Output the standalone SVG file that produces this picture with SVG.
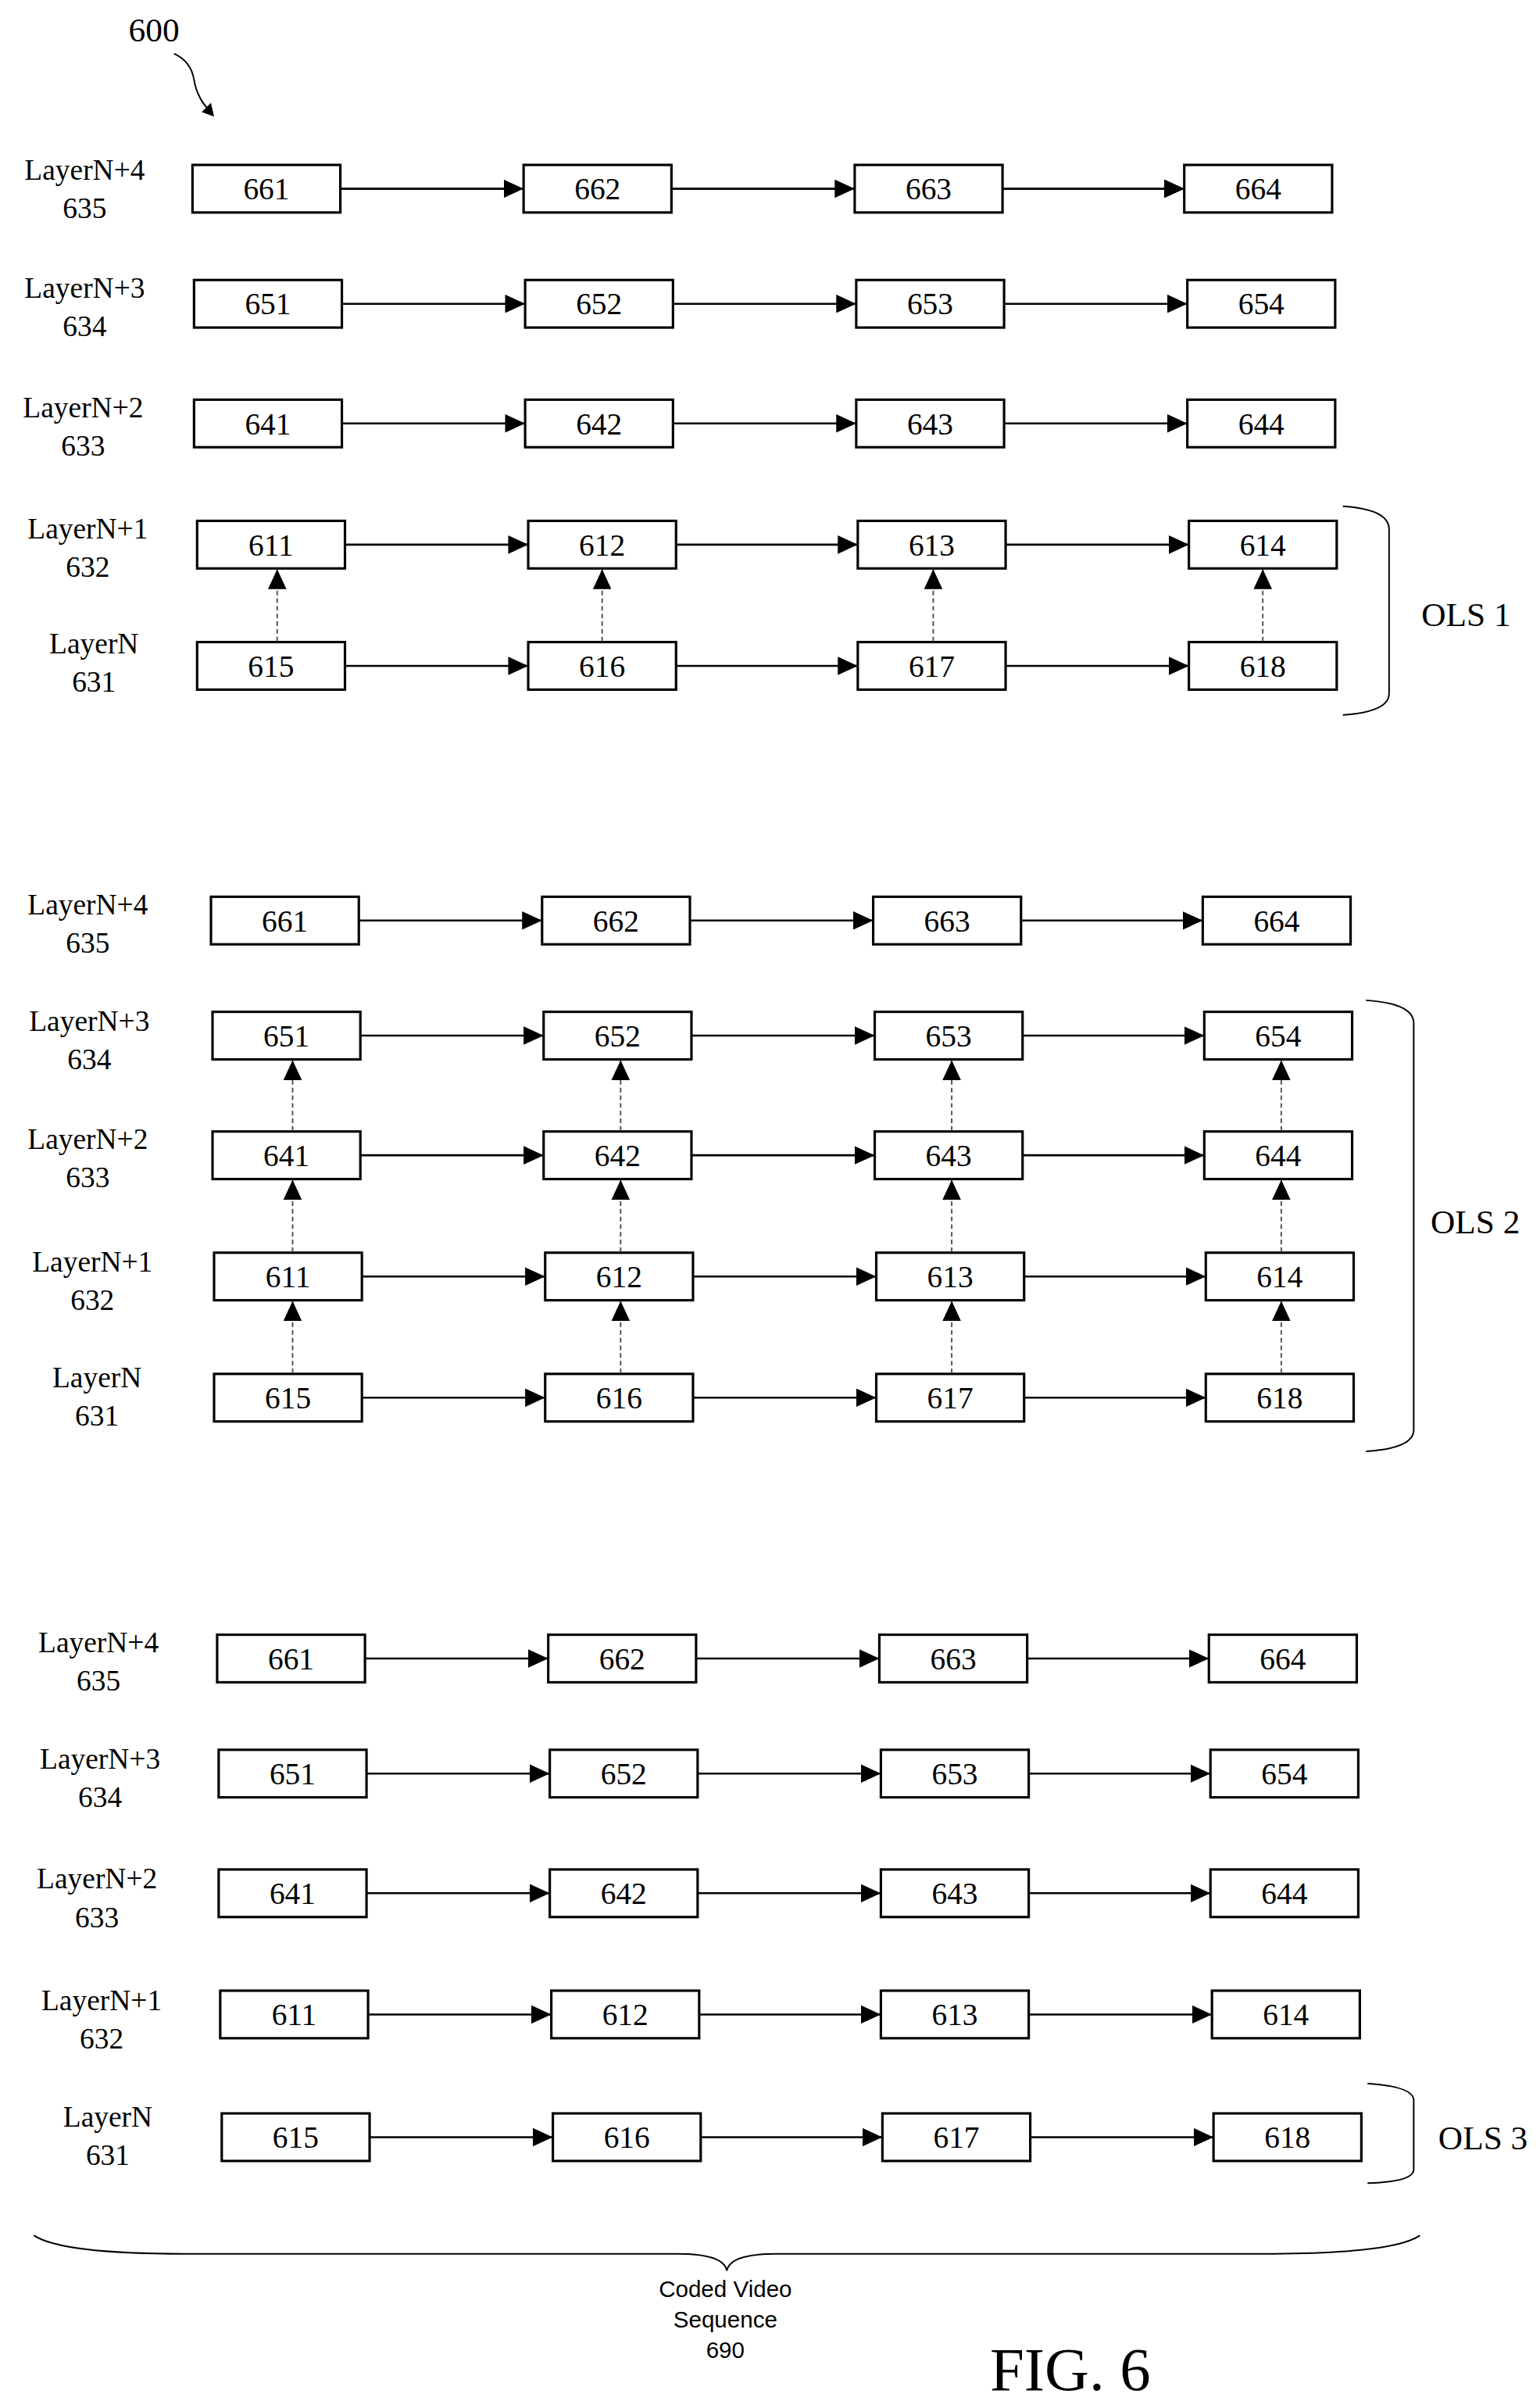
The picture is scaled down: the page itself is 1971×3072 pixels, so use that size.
<svg xmlns="http://www.w3.org/2000/svg" width="1971" height="3072" viewBox="0 0 1971 3072">
<defs>
<marker id="ah" markerUnits="userSpaceOnUse" markerWidth="14" markerHeight="12" refX="13" refY="6" orient="auto"><path d="M0,0 L13,6 L0,12 Z" fill="#000"/></marker>
<style>
.b{fill:#fff;stroke:#000;stroke-width:1.6}
.t{font-family:"Liberation Serif",serif;font-size:20px;text-anchor:middle}
.l{font-family:"Liberation Serif",serif;font-size:19px;text-anchor:middle}
.h{stroke:#000;stroke-width:1.3;fill:none;marker-end:url(#ah)}
.d{stroke:#555;stroke-width:1;stroke-dasharray:3,2;fill:none;marker-end:url(#ah)}
.br{stroke:#000;stroke-width:1;fill:none}
</style>
</defs>
<rect width="1971" height="3072" fill="#fff"/>
<g transform="scale(1.971 1.963)">
<g id="title"><text x="100" y="27" class="l" style="font-size:22px">600</text>
<path class="br" d="M113,35 Q124,40 126,52 Q128,64 136,72" stroke-width="1.3"/><path d="M131,73 L139,76 L137,67 Z"/></g>
<g id="labels">
<text class="l" x="55" y="117">LayerN+4</text><text class="l" x="55" y="142">635</text>
<text class="l" x="55" y="194">LayerN+3</text><text class="l" x="55" y="219">634</text>
<text class="l" x="54" y="272">LayerN+2</text><text class="l" x="54" y="297">633</text>
<text class="l" x="57" y="351">LayerN+1</text><text class="l" x="57" y="376">632</text>
<text class="l" x="61" y="426">LayerN</text><text class="l" x="61" y="451">631</text>
<text class="l" x="57" y="596">LayerN+4</text><text class="l" x="57" y="621">635</text>
<text class="l" x="58" y="672">LayerN+3</text><text class="l" x="58" y="697">634</text>
<text class="l" x="57" y="749">LayerN+2</text><text class="l" x="57" y="774">633</text>
<text class="l" x="60" y="829">LayerN+1</text><text class="l" x="60" y="854">632</text>
<text class="l" x="63" y="904">LayerN</text><text class="l" x="63" y="929">631</text>
<text class="l" x="64" y="1077">LayerN+4</text><text class="l" x="64" y="1102">635</text>
<text class="l" x="65" y="1153">LayerN+3</text><text class="l" x="65" y="1178">634</text>
<text class="l" x="63" y="1231">LayerN+2</text><text class="l" x="63" y="1256">633</text>
<text class="l" x="66" y="1310">LayerN+1</text><text class="l" x="66" y="1335">632</text>
<text class="l" x="70" y="1386">LayerN</text><text class="l" x="70" y="1411">631</text>
</g>
<g id="nodes">
<!-- S1 -->
<g id="s1-661"><rect class="b" x="125" y="107.5" width="96" height="31"/><text class="t" x="173" y="130">661</text></g>
<g id="s1-662"><rect class="b" x="340" y="107.5" width="96" height="31"/><text class="t" x="388" y="130">662</text></g>
<g id="s1-663"><rect class="b" x="555" y="107.5" width="96" height="31"/><text class="t" x="603" y="130">663</text></g>
<g id="s1-664"><rect class="b" x="769" y="107.5" width="96" height="31"/><text class="t" x="817" y="130">664</text></g>
<g id="s1-651"><rect class="b" x="126" y="182.5" width="96" height="31"/><text class="t" x="174" y="205">651</text></g>
<g id="s1-652"><rect class="b" x="341" y="182.5" width="96" height="31"/><text class="t" x="389" y="205">652</text></g>
<g id="s1-653"><rect class="b" x="556" y="182.5" width="96" height="31"/><text class="t" x="604" y="205">653</text></g>
<g id="s1-654"><rect class="b" x="771" y="182.5" width="96" height="31"/><text class="t" x="819" y="205">654</text></g>
<g id="s1-641"><rect class="b" x="126" y="260.5" width="96" height="31"/><text class="t" x="174" y="283">641</text></g>
<g id="s1-642"><rect class="b" x="341" y="260.5" width="96" height="31"/><text class="t" x="389" y="283">642</text></g>
<g id="s1-643"><rect class="b" x="556" y="260.5" width="96" height="31"/><text class="t" x="604" y="283">643</text></g>
<g id="s1-644"><rect class="b" x="771" y="260.5" width="96" height="31"/><text class="t" x="819" y="283">644</text></g>
<g id="s1-611"><rect class="b" x="128" y="339.5" width="96" height="31"/><text class="t" x="176" y="362">611</text></g>
<g id="s1-612"><rect class="b" x="343" y="339.5" width="96" height="31"/><text class="t" x="391" y="362">612</text></g>
<g id="s1-613"><rect class="b" x="557" y="339.5" width="96" height="31"/><text class="t" x="605" y="362">613</text></g>
<g id="s1-614"><rect class="b" x="772" y="339.5" width="96" height="31"/><text class="t" x="820" y="362">614</text></g>
<g id="s1-615"><rect class="b" x="128" y="418.5" width="96" height="31"/><text class="t" x="176" y="441">615</text></g>
<g id="s1-616"><rect class="b" x="343" y="418.5" width="96" height="31"/><text class="t" x="391" y="441">616</text></g>
<g id="s1-617"><rect class="b" x="557" y="418.5" width="96" height="31"/><text class="t" x="605" y="441">617</text></g>
<g id="s1-618"><rect class="b" x="772" y="418.5" width="96" height="31"/><text class="t" x="820" y="441">618</text></g>
<!-- S2 -->
<g id="s2-661"><rect class="b" x="137" y="584.5" width="96" height="31"/><text class="t" x="185" y="607">661</text></g>
<g id="s2-662"><rect class="b" x="352" y="584.5" width="96" height="31"/><text class="t" x="400" y="607">662</text></g>
<g id="s2-663"><rect class="b" x="567" y="584.5" width="96" height="31"/><text class="t" x="615" y="607">663</text></g>
<g id="s2-664"><rect class="b" x="781" y="584.5" width="96" height="31"/><text class="t" x="829" y="607">664</text></g>
<g id="s2-651"><rect class="b" x="138" y="659.5" width="96" height="31"/><text class="t" x="186" y="682">651</text></g>
<g id="s2-652"><rect class="b" x="353" y="659.5" width="96" height="31"/><text class="t" x="401" y="682">652</text></g>
<g id="s2-653"><rect class="b" x="568" y="659.5" width="96" height="31"/><text class="t" x="616" y="682">653</text></g>
<g id="s2-654"><rect class="b" x="782" y="659.5" width="96" height="31"/><text class="t" x="830" y="682">654</text></g>
<g id="s2-641"><rect class="b" x="138" y="737.5" width="96" height="31"/><text class="t" x="186" y="760">641</text></g>
<g id="s2-642"><rect class="b" x="353" y="737.5" width="96" height="31"/><text class="t" x="401" y="760">642</text></g>
<g id="s2-643"><rect class="b" x="568" y="737.5" width="96" height="31"/><text class="t" x="616" y="760">643</text></g>
<g id="s2-644"><rect class="b" x="782" y="737.5" width="96" height="31"/><text class="t" x="830" y="760">644</text></g>
<g id="s2-611"><rect class="b" x="139" y="816.5" width="96" height="31"/><text class="t" x="187" y="839">611</text></g>
<g id="s2-612"><rect class="b" x="354" y="816.5" width="96" height="31"/><text class="t" x="402" y="839">612</text></g>
<g id="s2-613"><rect class="b" x="569" y="816.5" width="96" height="31"/><text class="t" x="617" y="839">613</text></g>
<g id="s2-614"><rect class="b" x="783" y="816.5" width="96" height="31"/><text class="t" x="831" y="839">614</text></g>
<g id="s2-615"><rect class="b" x="139" y="895.5" width="96" height="31"/><text class="t" x="187" y="918">615</text></g>
<g id="s2-616"><rect class="b" x="354" y="895.5" width="96" height="31"/><text class="t" x="402" y="918">616</text></g>
<g id="s2-617"><rect class="b" x="569" y="895.5" width="96" height="31"/><text class="t" x="617" y="918">617</text></g>
<g id="s2-618"><rect class="b" x="783" y="895.5" width="96" height="31"/><text class="t" x="831" y="918">618</text></g>
<!-- S3 -->
<g id="s3-661"><rect class="b" x="141" y="1065.5" width="96" height="31"/><text class="t" x="189" y="1088">661</text></g>
<g id="s3-662"><rect class="b" x="356" y="1065.5" width="96" height="31"/><text class="t" x="404" y="1088">662</text></g>
<g id="s3-663"><rect class="b" x="571" y="1065.5" width="96" height="31"/><text class="t" x="619" y="1088">663</text></g>
<g id="s3-664"><rect class="b" x="785" y="1065.5" width="96" height="31"/><text class="t" x="833" y="1088">664</text></g>
<g id="s3-651"><rect class="b" x="142" y="1140.5" width="96" height="31"/><text class="t" x="190" y="1163">651</text></g>
<g id="s3-652"><rect class="b" x="357" y="1140.5" width="96" height="31"/><text class="t" x="405" y="1163">652</text></g>
<g id="s3-653"><rect class="b" x="572" y="1140.5" width="96" height="31"/><text class="t" x="620" y="1163">653</text></g>
<g id="s3-654"><rect class="b" x="786" y="1140.5" width="96" height="31"/><text class="t" x="834" y="1163">654</text></g>
<g id="s3-641"><rect class="b" x="142" y="1218.5" width="96" height="31"/><text class="t" x="190" y="1241">641</text></g>
<g id="s3-642"><rect class="b" x="357" y="1218.5" width="96" height="31"/><text class="t" x="405" y="1241">642</text></g>
<g id="s3-643"><rect class="b" x="572" y="1218.5" width="96" height="31"/><text class="t" x="620" y="1241">643</text></g>
<g id="s3-644"><rect class="b" x="786" y="1218.5" width="96" height="31"/><text class="t" x="834" y="1241">644</text></g>
<g id="s3-611"><rect class="b" x="143" y="1297.5" width="96" height="31"/><text class="t" x="191" y="1320">611</text></g>
<g id="s3-612"><rect class="b" x="358" y="1297.5" width="96" height="31"/><text class="t" x="406" y="1320">612</text></g>
<g id="s3-613"><rect class="b" x="572" y="1297.5" width="96" height="31"/><text class="t" x="620" y="1320">613</text></g>
<g id="s3-614"><rect class="b" x="787" y="1297.5" width="96" height="31"/><text class="t" x="835" y="1320">614</text></g>
<g id="s3-615"><rect class="b" x="144" y="1377.5" width="96" height="31"/><text class="t" x="192" y="1400">615</text></g>
<g id="s3-616"><rect class="b" x="359" y="1377.5" width="96" height="31"/><text class="t" x="407" y="1400">616</text></g>
<g id="s3-617"><rect class="b" x="573" y="1377.5" width="96" height="31"/><text class="t" x="621" y="1400">617</text></g>
<g id="s3-618"><rect class="b" x="788" y="1377.5" width="96" height="31"/><text class="t" x="836" y="1400">618</text></g>
</g>
<g id="connectors">
<!-- S1 horizontal -->
<path class="h" d="M221,123H340M436,123H555M651,123H769"/>
<path class="h" d="M222,198H341"/><path class="h" d="M437,198H556"/><path class="h" d="M652,198H771"/>
<path class="h" d="M222,276H341"/><path class="h" d="M437,276H556"/><path class="h" d="M652,276H771"/>
<path class="h" d="M224,355H343"/><path class="h" d="M439,355H557"/><path class="h" d="M653,355H772"/>
<path class="h" d="M224,434H343"/><path class="h" d="M439,434H557"/><path class="h" d="M653,434H772"/>
<path class="h" d="M436,123H555"/><path class="h" d="M651,123H769"/><path class="h" d="M221,123H340"/>
<path class="d" d="M180,418V371"/><path class="d" d="M391,418V371"/><path class="d" d="M606,418V371"/><path class="d" d="M820,418V371"/>
<!-- S2 -->
<path class="h" d="M233,600H352"/><path class="h" d="M448,600H567"/><path class="h" d="M663,600H781"/>
<path class="h" d="M234,675H353"/><path class="h" d="M449,675H568"/><path class="h" d="M664,675H782"/>
<path class="h" d="M234,753H353"/><path class="h" d="M449,753H568"/><path class="h" d="M664,753H782"/>
<path class="h" d="M235,832H354"/><path class="h" d="M450,832H569"/><path class="h" d="M665,832H783"/>
<path class="h" d="M235,911H354"/><path class="h" d="M450,911H569"/><path class="h" d="M665,911H783"/>
<path class="d" d="M190,895V848"/><path class="d" d="M403,895V848"/><path class="d" d="M618,895V848"/><path class="d" d="M832,895V848"/>
<path class="d" d="M190,816V769"/><path class="d" d="M403,816V769"/><path class="d" d="M618,816V769"/><path class="d" d="M832,816V769"/>
<path class="d" d="M190,737V691"/><path class="d" d="M403,737V691"/><path class="d" d="M618,737V691"/><path class="d" d="M832,737V691"/>
<!-- S3 -->
<path class="h" d="M237,1081H356"/><path class="h" d="M452,1081H571"/><path class="h" d="M667,1081H785"/>
<path class="h" d="M238,1156H357"/><path class="h" d="M453,1156H572"/><path class="h" d="M668,1156H786"/>
<path class="h" d="M238,1234H357"/><path class="h" d="M453,1234H572"/><path class="h" d="M668,1234H786"/>
<path class="h" d="M239,1313H358"/><path class="h" d="M454,1313H572"/><path class="h" d="M668,1313H787"/>
<path class="h" d="M240,1393H359"/><path class="h" d="M455,1393H573"/><path class="h" d="M669,1393H788"/>
</g>
<g id="braces">
<path class="br" d="M872,330 Q902,332 902,345 L902,452 Q902,464 872,466"/>
<text class="l" x="952" y="408" style="font-size:22px">OLS 1</text>
<path class="br" d="M887,652 Q918,654 918,667 L918,932 Q918,944 887,946"/>
<text class="l" x="958" y="804" style="font-size:22px">OLS 2</text>
<path class="br" d="M888,1358 Q918,1360 918,1369 L918,1414 Q918,1422 888,1423"/>
<text class="l" x="963" y="1401" style="font-size:22px">OLS 3</text>
<path class="br" d="M22,1457 Q40,1469 120,1469 L440,1469 Q470,1469 472,1480 Q474,1469 504,1469 L820,1469 Q905,1469 922,1457"/>
<text x="471" y="1497" style="font-family:'Liberation Sans',sans-serif;font-size:15px;text-anchor:middle">Coded Video</text>
<text x="471" y="1517" style="font-family:'Liberation Sans',sans-serif;font-size:15px;text-anchor:middle">Sequence</text>
<text x="471" y="1537" style="font-family:'Liberation Sans',sans-serif;font-size:15px;text-anchor:middle">690</text>
<text x="695" y="1558" style="font-family:'Liberation Serif',serif;font-size:40px;text-anchor:middle">FIG. 6</text>
</g>
</g>
</svg>
